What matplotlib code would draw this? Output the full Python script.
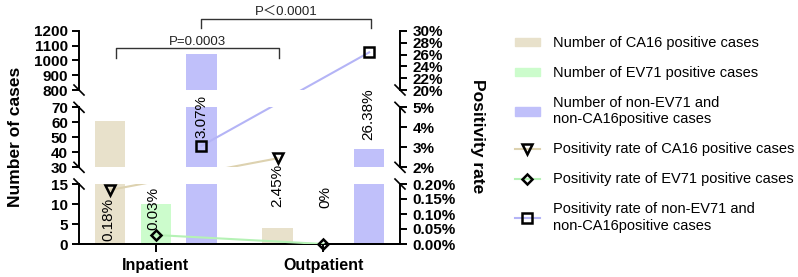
import numpy as np
import matplotlib
matplotlib.use('Agg')
from matplotlib import pyplot as plt
from matplotlib.patches import Patch
from matplotlib.lines import Line2D
from matplotlib.transforms import blended_transform_factory

plt.rcParams['font.family'] = ['Liberation Sans', 'Noto Sans CJK SC', 'DejaVu Sans']

# data
categories = ['Inpatient', 'Outpatient']
ca16_cases = [61, 4]
ev71_cases = [10, 0]
other_cases = [1045, 42]
ca16_rate = [0.18, 2.45]
ev71_rate = [0.03, 0.0]
other_rate = [3.07, 26.38]
ca16_labels = ['0.18%', '2.45%']
ev71_labels = ['0.03%', '0%']
other_labels = ['3.07%', '26.38%']

# broken axis segments (low, high, step), bottom -> top
case_segs = [(0, 15, 5), (30, 70, 10), (800, 1200, 100)]
rate_segs = [(0, 0.2, 0.05), (2, 5, 1), (20, 30, 2)]

c_ca16 = '#E8E1CB'
c_ev71 = '#CCFCCC'
c_other = '#C0C0FA'
l_ca16 = '#DDD2B0'
l_ev71 = '#B5F2B5'
l_other = '#B4B4F6'

W, H = 798, 277
fig = plt.figure(figsize=(W / 100, H / 100), dpi=100)

left, right = 79, 400
rows = [(184, 244), (107.3, 167.3), (31, 90)]   # pixel top/bottom of each segment

x = np.arange(len(categories))
off, bw = 0.273, 0.18
lw = 1.4

axes, raxes = [], []
for i, ((top, bot), (lo, hi, st), (rlo, rhi, rst)) in enumerate(zip(rows, case_segs, rate_segs)):
    ax = fig.add_axes([left / W, 1 - bot / H, (right - left) / W, (bot - top) / H])
    ax.patch.set_visible(False)
    ax.bar(x - off, ca16_cases, bw, color=c_ca16)
    ax.bar(x, ev71_cases, bw, color=c_ev71)
    ax.bar(x + off, other_cases, bw, color=c_other)
    ax.set_xlim(-0.457, 1.457)
    ax.set_ylim(lo, hi)
    ax.set_autoscale_on(False)
    ax.set_yticks(np.arange(lo, hi + st / 2, st))
    ax.set_yticklabels([f'{v:g}' for v in np.arange(lo, hi + st / 2, st)],
                       fontsize=11, fontweight='bold')
    ax.tick_params(axis='y', length=5, width=lw, pad=3)

    axr = ax.twinx()
    axr.set_ylim(rlo, rhi)
    axr.set_autoscale_on(False)
    rt = np.arange(rlo, rhi + rst / 2, rst)
    axr.set_yticks(rt)
    fmt = '{:.2f}%' if i == 0 else '{:.0f}%'
    axr.set_yticklabels([fmt.format(v) for v in rt], fontsize=11, fontweight='bold')
    axr.tick_params(axis='y', length=5, width=lw, pad=4)

    for a in (ax, axr):
        a.spines['top'].set_visible(False)
        a.spines['bottom'].set_visible(i == 0)
        a.spines['bottom'].set_linewidth(lw)
    ax.spines['right'].set_visible(False)
    axr.spines['left'].set_visible(False)
    ax.spines['left'].set_linewidth(lw)
    axr.spines['right'].set_linewidth(lw)

    if i == 0:
        ax.set_xticks(x)
        ax.set_xticklabels(categories, fontsize=11.5, fontweight='bold')
        ax.tick_params(axis='x', length=6, width=lw, pad=4)
    else:
        ax.set_xticks([])

    # break marks
    dx = 5 / (right - left)
    dy = 5 / (bot - top)
    for xe in (0, 1):
        if i > 0:
            ax.plot([xe - dx, xe + dx], [dy, -dy], transform=ax.transAxes,
                    color='k', lw=1.2, clip_on=False)
        if i < 2:
            ax.plot([xe - dx, xe + dx], [1 + dy, 1 - dy], transform=ax.transAxes,
                    color='k', lw=1.2, clip_on=False)
    axes.append(ax)
    raxes.append(axr)


def seg_of(v):
    for k, (lo, hi, st) in enumerate(rate_segs):
        if lo <= v <= hi:
            return k
    return 0


inv = fig.transFigure.inverted()


def rate_series(xs, vals, labels, color, marker, ms, offsets):
    pts = []
    for xv, v in zip(xs, vals):
        k = seg_of(v)
        pts.append(inv.transform(raxes[k].transData.transform((xv, v))))
    pts = np.array(pts)
    for axr in raxes:
        axr.plot(pts[:, 0], pts[:, 1], transform=fig.transFigure, color=color, lw=1.5, zorder=3)
    for xv, v, lab, (ox, oy) in zip(xs, vals, labels, offsets):
        k = seg_of(v)
        raxes[k].plot([xv], [v], marker=marker, ms=ms, mfc='none', mec='k', mew=1.8,
                      clip_on=False, zorder=5)
        raxes[k].annotate(lab, (xv, v), xytext=(ox, oy), textcoords='offset pixels',
                          rotation=90, ha='center', va='center', fontsize=11, zorder=6,
                          annotation_clip=False)


rate_series(x - off, ca16_rate, ca16_labels, l_ca16, 'v', 6.5, [(-1, -29), (0, -27)])
rate_series(x, ev71_rate, ev71_labels, l_ev71, 'D', 5, [(-2, 27), (2, 47)])
rate_series(x + off, other_rate, other_labels, l_other, 's', 6.5, [(0, 29), (-1, -62)])

# significance brackets
tr = blended_transform_factory(axes[2].transData, fig.transFigure)
for x0, x1, yb, yt, txt, ty in [(-0.235, 0.736, 48, 58, 'P=0.0003', 42),
                                (0.271, 1.284, 19, 28, 'P＜0.0001', 12)]:
    axes[2].plot([x0, x0, x1, x1], [1 - yt / H, 1 - yb / H, 1 - yb / H, 1 - yt / H],
                 transform=tr, color='#333333', lw=1, clip_on=False)
    axes[2].text((x0 + x1) / 2, 1 - ty / H, txt, transform=tr, ha='center', va='center',
                 fontsize=9.5, color='#222222')

fig.text(15.5 / W, 1 - 137 / H, 'Number of cases', rotation=90, ha='center', va='center',
         fontsize=12.5, fontweight='bold')
fig.text(477 / W, 1 - 136.5 / H, 'Positivity rate', rotation=270, ha='center', va='center',
         fontsize=12.5, fontweight='bold')

handles = [
    Patch(color=c_ca16),
    Patch(color=c_ev71),
    Patch(color=c_other),
    Line2D([], [], color=l_ca16, lw=1.5, marker='v', ms=6.5, mfc='none', mec='k', mew=1.8),
    Line2D([], [], color=l_ev71, lw=1.5, marker='D', ms=5, mfc='none', mec='k', mew=1.8),
    Line2D([], [], color=l_other, lw=1.5, marker='s', ms=6.5, mfc='none', mec='k', mew=1.8),
]
names = [
    'Number of CA16 positive cases',
    'Number of EV71 positive cases',
    'Number of non-EV71 and\nnon-CA16positive cases',
    'Positivity rate of CA16 positive cases',
    'Positivity rate of EV71 positive cases',
    'Positivity rate of non-EV71 and\nnon-CA16positive cases',
]
fig.legend(handles, names, loc='upper left', bbox_to_anchor=(515 / W, 1 - 36 / H),
           frameon=False, fontsize=10.5, borderpad=0, borderaxespad=0,
           handlelength=1.7, handleheight=0.5, handletextpad=0.9, labelspacing=1.1)

fig.savefig('out.png', dpi=100)
